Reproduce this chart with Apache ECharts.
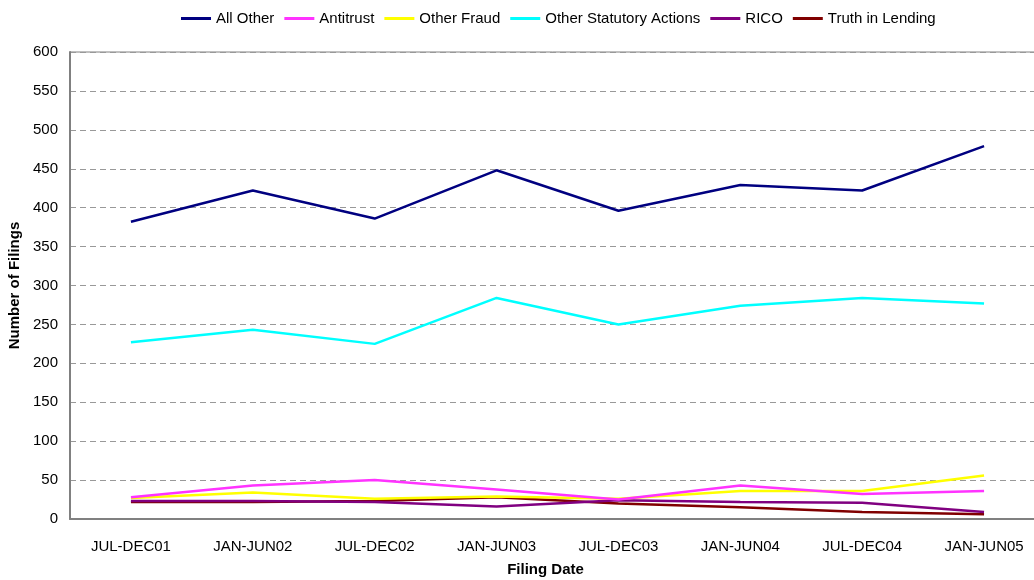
<!DOCTYPE html>
<html>
<head>
<meta charset="utf-8">
<script src="https://cdn.jsdelivr.net/npm/echarts@6/dist/echarts.min.js"></script>
<style>
  html, body { margin: 0; padding: 0; background: #fff; }
  #filings { width: 1034px; height: 580px; }
</style>
</head>
<body>
<div id="filings"></div>
<script>
var chart = echarts.init(document.getElementById('filings'), null, {renderer: 'canvas'});

var periods = ['JUL-DEC01', 'JAN-JUN02', 'JUL-DEC02', 'JAN-JUN03', 'JUL-DEC03', 'JAN-JUN04', 'JUL-DEC04', 'JAN-JUN05'];

var allOther       = [382, 422, 386, 448, 396, 429, 422, 479];
var antitrust      = [28, 43, 50, 38, 25, 43, 32, 36];
var otherFraud     = [27, 34, 26, 29, 26, 36, 36, 56];
var otherStatutory = [227, 243, 225, 284, 250, 274, 284, 277];
var rico           = [23, 23, 22, 16, 24, 22, 21, 9];
var truthLending   = [22, 22, 23, 28, 20, 15, 9, 6];

var seriesNames  = ['All Other', 'Antitrust', 'Other Fraud', 'Other Statutory Actions', 'RICO', 'Truth in Lending'];
var seriesData   = [allOther, antitrust, otherFraud, otherStatutory, rico, truthLending];
var seriesColors = ['#000080', '#ff33ff', '#ffff00', '#00ffff', '#800080', '#800000'];

var font = 'Liberation Sans, Arial, sans-serif';

var option = {
    animation: false,
    color: seriesColors,
    textStyle: { fontFamily: font },
    legend: {
        top: 6,
        left: 176,
        itemWidth: 30,
        itemHeight: 3,
        itemGap: 10,
        icon: 'rect',
        textStyle: { fontSize: 15, color: '#000', fontFamily: font },
        data: seriesNames
    },
    grid: {
        left: 70,
        right: -11,
        top: 52,
        bottom: 61,
        outerBoundsMode: 'none',
        containLabel: false,
        show: true,
        borderColor: '#808080',
        borderWidth: 1
    },
    xAxis: {
        type: 'category',
        data: periods,
        name: 'Filing Date',
        nameLocation: 'middle',
        nameGap: 43,
        nameTextStyle: { fontWeight: 'bold', fontSize: 15, color: '#000', fontFamily: font, padding: [0, 0, 0, -24] },
        axisLine: { lineStyle: { color: '#808080', width: 2 } },
        axisTick: { show: false },
        axisLabel: { fontSize: 15, color: '#000', margin: 20, fontFamily: font }
    },
    yAxis: {
        type: 'value',
        min: 0,
        max: 600,
        interval: 50,
        name: 'Number of Filings',
        nameLocation: 'middle',
        nameGap: 48,
        nameTextStyle: { fontWeight: 'bold', fontSize: 15, color: '#000', fontFamily: font },
        axisLine: { show: true, lineStyle: { color: '#808080', width: 2 } },
        axisTick: { show: false },
        axisLabel: { fontSize: 15, color: '#000', margin: 12, fontFamily: font },
        splitLine: { lineStyle: { color: '#999', type: [6, 4], width: 1 } }
    },
    series: seriesNames.map(function (name, i) {
        return {
            name: name,
            type: 'line',
            data: seriesData[i],
            symbol: 'none',
            lineStyle: { width: 2.5, color: seriesColors[i] },
            z: 10 - i
        };
    })
};

chart.setOption(option);
</script>
</body>
</html>
